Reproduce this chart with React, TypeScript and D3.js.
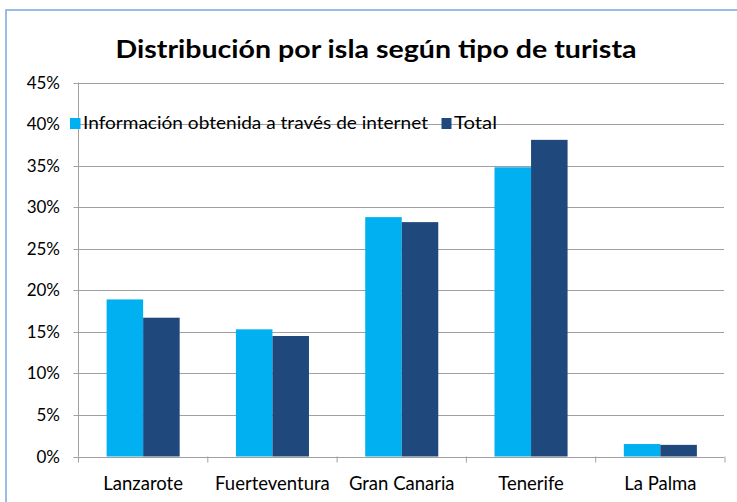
import React, { useEffect } from 'react';
import * as d3 from 'd3';

// Chart data
const islands = ['Lanzarote', 'Fuerteventura', 'Gran Canaria', 'Tenerife', 'La Palma'];
const seriesNames = ['Información obtenida a través de internet', 'Total'];
const internetValues = [18.9, 15.3, 28.8, 34.8, 1.5];
const totalValues = [16.7, 14.5, 28.2, 38.1, 1.4];
const yTicks = [0, 5, 10, 15, 20, 25, 30, 35, 40, 45];

const colors = ['#00B0F0', '#1F497D'];
const font = 'Lato, "Open Sans", sans-serif';

const App = () => {
  useEffect(() => {
    document.body.style.margin = '0';
  }, []);

  const width = 737;
  const height = 502;
  const plot = { left: 78.5, right: 725, top: 82.5, bottom: 456.5 };

  // Scales
  const x = d3.scaleBand().domain(islands).range([plot.left, plot.right]).paddingInner(0.435).paddingOuter(0.2175);
  const xInner = d3.scaleBand().domain(seriesNames).range([0, x.bandwidth()]);
  const y = d3.scaleLinear().domain([0, 45]).range([plot.bottom, plot.top]);

  const series = [internetValues, totalValues];
  const step = x.step();
  const tickXs = d3.range(islands.length + 1).map(i => plot.left + i * step);

  return (
    <svg width={width} height={height} style={{ display: 'block', background: '#fff' }}>
      {/* chart border */}
      <rect x={6} y={10} width={760} height={520} fill="none" stroke="#7AA6E0" strokeWidth={1.5} />

      {/* title */}
      <text x={376} y={58} textAnchor="middle" fontFamily={font} fontWeight="bold" fontSize={25}
        textLength={521} lengthAdjust="spacingAndGlyphs" fill="#000">
        Distribución por isla según tipo de turista
      </text>

      {/* gridlines and y labels */}
      {yTicks.map(t => (
        <g key={t}>
          <line x1={plot.left - 5} x2={plot.right - 1} y1={Math.round(y(t)) + 0.5} y2={Math.round(y(t)) + 0.5}
            stroke="#A0A0A0" strokeWidth={1} />
          <text x={60} y={y(t) + 6} textAnchor="end" fontFamily={font} fontSize={17} fill="#000">{t}%</text>
        </g>
      ))}

      {/* y axis */}
      <line x1={plot.left} x2={plot.left} y1={plot.top} y2={plot.bottom} stroke="#A0A0A0" strokeWidth={1} />

      {/* bars */}
      {islands.map((isl, i) => (
        <g key={isl} transform={`translate(${x(isl)},0)`}>
          {series.map((vals, s) => (
            <rect key={s} x={xInner(seriesNames[s])} y={y(vals[i])} width={xInner.bandwidth()}
              height={y(0) - y(vals[i])} fill={colors[s]} />
          ))}
        </g>
      ))}

      {/* x axis and ticks */}
      <line x1={plot.left} x2={plot.right - 1} y1={Math.round(y(0)) + 0.5} y2={Math.round(y(0)) + 0.5} stroke="#A0A0A0" />
      {tickXs.map((tx, i) => (
        <line key={i} x1={tx} x2={tx} y1={y(0)} y2={y(0) + 6} stroke="#A0A0A0" />
      ))}
      {islands.map(isl => (
        <text key={isl} x={(x(isl) as number) + x.bandwidth() / 2} y={490} textAnchor="middle"
          fontFamily={font} fontSize={18.5} fill="#000">{isl}</text>
      ))}

      {/* legend */}
      <rect x={70} y={118} width={10.5} height={11} fill={colors[0]} />
      <text x={83} y={129} fontFamily={font} fontSize={16.5} textLength={345} lengthAdjust="spacingAndGlyphs" fill="#000">
        {seriesNames[0]}
      </text>
      <rect x={441.5} y={118} width={10} height={11} fill={colors[1]} />
      <text x={454} y={129} fontFamily={font} fontSize={16.5} textLength={43} lengthAdjust="spacingAndGlyphs" fill="#000">
        {seriesNames[1]}
      </text>
    </svg>
  );
};

export default App;
